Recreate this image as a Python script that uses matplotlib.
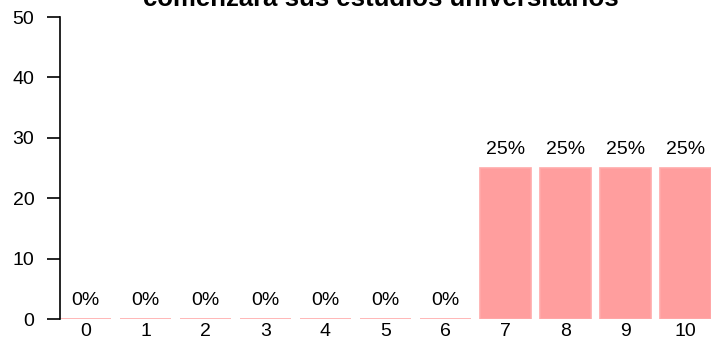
import matplotlib
matplotlib.use("Agg")
import matplotlib.pyplot as plt

plt.rcParams["font.family"] = ["Liberation Sans", "DejaVu Sans"]

categories = ["0", "1", "2", "3", "4", "5", "6", "7", "8", "9", "10"]
values = [0, 0, 0, 0, 0, 0, 0, 25, 25, 25, 25]
pct_labels = ["0%", "0%", "0%", "0%", "0%", "0%", "0%", "25%", "25%", "25%", "25%"]
title = "comenzará sus estudios universitarios"

W, H = 712, 339
fig = plt.figure(figsize=(W / 100, H / 100), dpi=100)
ax = fig.add_axes([60 / W, (H - 319) / H, 651 / W, (319 - 17) / H])

bar_color = "#FF9E9E"
width = 0.85
x = list(range(len(categories)))
ax.bar(x, values, width=width, color=bar_color, edgecolor="#FFAAAA", linewidth=1.2)

for xi, v, lab in zip(x, values, pct_labels):
    ax.annotate(lab, (xi, v), xytext=(0, 7), textcoords="offset points",
                ha="center", va="bottom", fontsize=14)

ax.set_xlim(-width / 2, len(categories) - 1 + width / 2)
ax.set_ylim(0, 50)
ax.set_yticks([0, 10, 20, 30, 40, 50])
ax.set_xticks(x)
ax.set_xticklabels(categories)
ax.tick_params(axis="x", length=0, pad=3, labelsize=14)
ax.tick_params(axis="y", length=9.5, width=1.2, pad=9, labelsize=14)

for s in ["top", "right", "bottom"]:
    ax.spines[s].set_visible(False)
ax.spines["left"].set_linewidth(1.2)
ax.spines["left"].set_bounds(0, 50)

fig.text(381 / W, 1 - 6 / H, title, ha="center", va="baseline",
         fontsize=18.5, fontweight="bold")

fig.savefig("out.png", dpi=100)
